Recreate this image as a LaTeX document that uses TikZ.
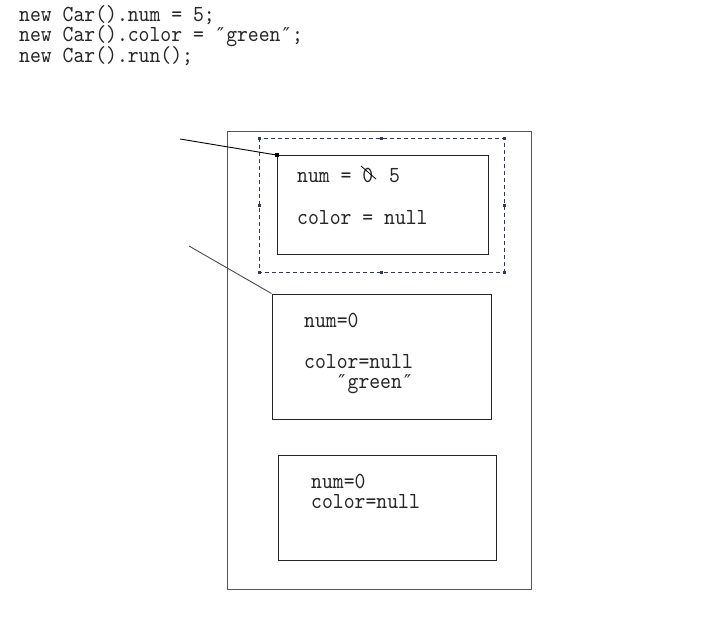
\documentclass[tikz,border=0pt]{standalone}
\usepackage{fontspec}
\newfontfamily\codefont[FakeStretch=0.9]{lmmono10-regular.otf}
\newfontfamily\qfont{DejaVu Sans Mono}
\newcommand{\dq}{{\qfont\fontsize{19}{19}\selectfont ″}}
\definecolor{txtc}{HTML}{262626}
\definecolor{selc}{HTML}{2E3B5C}
\definecolor{framec}{HTML}{555555}
\tikzset{
  txt/.style={inner sep=0pt, anchor=base west, text=txtc, align=left, font=\codefont\fontsize{23}{20}\selectfont},
  objbox/.style={draw=black!85, line width=1pt},
  frame/.style={draw=framec, line width=1pt},
  sel/.style={draw=selc, line width=0.9pt, dash pattern=on 4pt off 3pt},
  handle/.style={fill=selc, draw=none, minimum size=3pt, inner sep=0pt},
  ref/.style={line width=0.9pt}
}
\begin{document}
\begin{tikzpicture}[x=1pt,y=-1pt]
\useasboundingbox[fill=white] (0,0) rectangle (702,618);
% code lines (anchor at baseline of last line)
\node[txt] (code) at (19,63) {new Car().num = 5;\\[0pt]new Car().color = \dq green\dq;\\[-1pt]new Car().run();};
% heap frame
\draw[frame] (227,131) rectangle (531,589);
% selection
\draw[sel] (259,138) rectangle (504,272);
\foreach \p [count=\i] in {(259,138),(381,138),(504,138),(259,205),(504,205),(259,272),(381,272),(504,272)}
  \node[handle] (h\i) at \p {};
% object 1
\node[objbox, minimum width=211pt, minimum height=99pt, anchor=north west, inner sep=0pt] (o1) at (276.5,155) {};
\node[txt] (o1a) at (297,182) {num = 0};
\node[txt] (o1b) at (389,182) {5};
\node[txt] (o1c) at (297,224) {color = null};
\draw[black, line width=0.8pt] (361,166) -- (376,179);
\node[fill=black, minimum size=4pt, inner sep=0pt] (corner) at (o1.north west) {};
% object 2
\node[objbox, minimum width=219pt, minimum height=125pt, anchor=north west, inner sep=0pt] (o2) at (271.5,293.5) {};
\node[txt] (o2a) at (304,327) {num=0};
\node[txt] (o2b) at (304,388) {color=null\\[0pt]\hspace*{32pt}\dq green\dq};
% object 3
\node[objbox, minimum width=218pt, minimum height=105pt, anchor=north west, inner sep=0pt] (o3) at (278,455) {};
\node[txt] (o3a) at (311,508) {num=0\\color=null};
% reference lines
\coordinate (r1) at (180,139);
\coordinate (r2) at (189,246);
\draw[ref, black] (r1) -- (o1.north west);
\draw[ref, black!70] (r2) -- (o2.north west);
\end{tikzpicture}
\end{document}
